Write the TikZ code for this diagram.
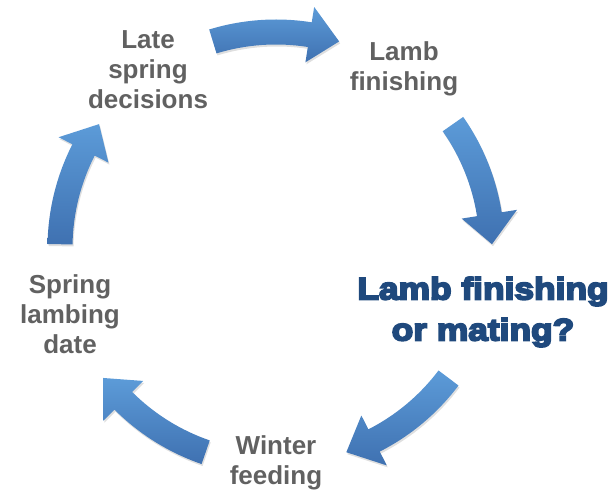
\documentclass[tikz,border=0pt]{standalone}
\usepackage{fontspec}
\setmainfont{Liberation Sans}
\newfontfamily\heavyfont[FakeBold=6,FakeStretch=1.14]{Liberation Sans Bold}
\usetikzlibrary{positioning,shadows}

\definecolor{stagegray}{HTML}{616161}
\definecolor{focusblue}{HTML}{1F497D}
\definecolor{arrowlight}{HTML}{5C9BD8}
\definecolor{arrowdark}{HTML}{3F71B1}

\tikzset{
  stage/.style={align=center, text=stagegray, font=\fontsize{26}{30}\selectfont\bfseries},
  focus/.style={align=center, text=focusblue, font=\heavyfont\fontsize{31}{41}\selectfont},
  cyclearrow/.style={top color=arrowlight, bottom color=arrowdark,
    drop shadow={opacity=0.25, shadow xshift=1pt, shadow yshift=-2pt}}
}

\begin{document}
\begin{tikzpicture}[x=1pt, y=1pt]
			\useasboundingbox (0,0) rectangle (615,-494);
			\coordinate (hub) at (276,-248);
			
			% curved block arrows round the cycle
			\begin{scope}[shift={(hub)}]
			\foreach \m in {90,18,-54,-126,-198} {
				\path[cyclearrow] (\m+17:228.5) arc[start angle=\m+17, end angle=\m-9, radius=228.5]
					-- (\m-9:244) -- (\m-17:216) -- (\m-9:188) -- (\m-9:203.5)
					arc[start angle=\m-9, end angle=\m+17, radius=203.5] -- cycle;
			}
			\end{scope}
			
			\node[stage] (late) at (148,-70) {Late\\spring\\decisions};
			\node[stage] (finish) at (404,-69) {Lamb\\finishing};
			\node[focus] (choice) at (483,-312) {Lamb finishing\\or mating?};
			\node[stage] (winter) at (276,-463) {Winter\\feeding};
			\node[stage] (lambing) at (70,-314) {Spring\\lambing\\date};
		\end{tikzpicture}
\end{document}
